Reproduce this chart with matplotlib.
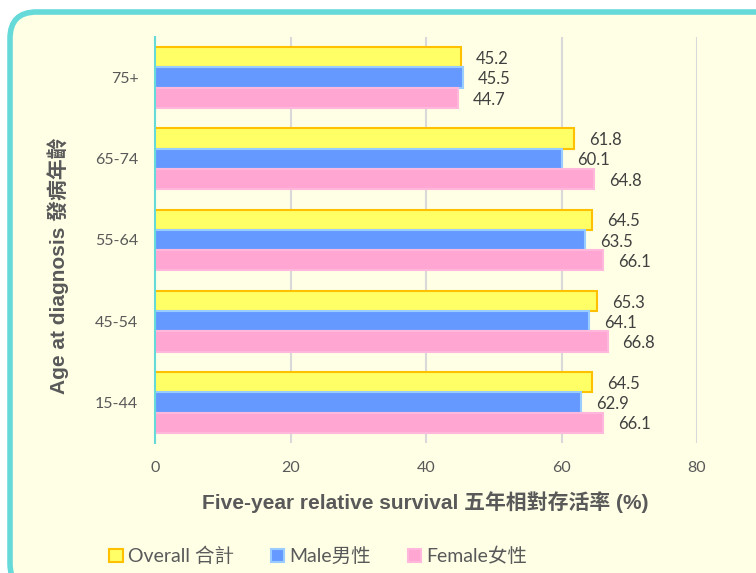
import matplotlib
matplotlib.use("Agg")
import matplotlib.pyplot as plt
from matplotlib.patches import FancyBboxPatch, Patch
import numpy as np

categories = ["75+", "65-74", "55-64", "45-54", "15-44"]
overall = [45.2, 61.8, 64.5, 65.3, 64.5]
male = [45.5, 60.1, 63.5, 64.1, 62.9]
female = [44.7, 64.8, 66.1, 66.8, 66.1]
series_names = ["Overall 合計", "Male男性", "Female女性"]
xticks = [0, 20, 40, 60, 80]

BG = "#FFFFE6"
TXT = "#595959"
fonts = ["Lato", "Noto Sans CJK TC", "DejaVu Sans"]
bold_fonts = ["Liberation Sans", "Noto Sans CJK TC", "DejaVu Sans"]

fig = plt.figure(figsize=(7.56, 5.73), dpi=100)
fig.patch.set_facecolor("white")

# rounded frame
frame = FancyBboxPatch((10 / 756, (573 - 590) / 573), 780 / 756, 578 / 573,
                       boxstyle="round,pad=0,rounding_size=0.035",
                       transform=fig.transFigure, facecolor=BG,
                       edgecolor="#66D9D9", linewidth=4, mutation_aspect=756 / 573,
                       clip_on=False, zorder=-10)
fig.patches.append(frame)

ax = fig.add_axes([155 / 756, 1 - 443 / 573, (697 - 155) / 756, (443 - 37) / 573])
ax.set_facecolor("none")
ax.set_zorder(1)

y = np.arange(len(categories))
h = 0.25
styles = [
    dict(color="#FFFF66", edgecolor="#FFC000"),
    dict(color="#6699FF", edgecolor="#99CCFF"),
    dict(color="#FFA6D2", edgecolor="#FFB8DC"),
]
data = [overall, male, female]
offsets = [-h, 0, h]
for vals, off, st, name in zip(data, offsets, styles, series_names):
    bars = ax.barh(y + off, vals, height=h, color=st["color"],
                   edgecolor=st["edgecolor"], linewidth=1.5, label=name, zorder=3)
    for b, v in zip(bars, vals):
        ax.annotate(f"{v:.1f}", (v, b.get_y() + b.get_height() / 2 + 0.02),
                    xytext=(15, 0), textcoords="offset pixels",
                    va="center", ha="left", fontsize=12, color="#404040",
                    family=fonts, zorder=4)

ax.set_ylim(4.5, -0.5)
ax.set_xlim(0, 80)
ax.set_xticks(xticks)
ax.set_yticks(y)
ax.set_yticklabels(categories)
ax.grid(axis="x", color="#D9D9D9", linewidth=1.5, zorder=0)
ax.set_axisbelow(True)
for s in ["top", "right", "bottom"]:
    ax.spines[s].set_visible(False)
ax.spines["left"].set_color("#66D9D9")
ax.spines["left"].set_linewidth(1.5)
ax.spines["left"].set_zorder(5)
ax.tick_params(axis="both", length=0, colors=TXT, labelsize=11.5)
ax.tick_params(axis="x", pad=13)
ax.tick_params(axis="y", pad=12)
for lab in ax.get_xticklabels() + ax.get_yticklabels():
    lab.set_family(fonts)

fig.text(425 / 756, 1 - 502 / 573, "Five-year relative survival 五年相對存活率 (%)",
         ha="center", va="center", fontsize=15, fontweight="bold",
         color=TXT, family=bold_fonts)
fig.text(58 / 756, 1 - 266 / 573, "Age at diagnosis 發病年齡", rotation=90,
         ha="center", va="center", fontsize=15, fontweight="bold",
         color=TXT, family=bold_fonts)

handles = [Patch(facecolor=st["color"], edgecolor=st["edgecolor"], linewidth=1.5)
           for st in styles]
leg = fig.legend(handles, series_names, loc="center", bbox_to_anchor=(318 / 756, 1 - 556 / 573),
                 ncol=3, frameon=False, handlelength=0.7, handleheight=0.7,
                 handletextpad=0.25, columnspacing=1.9,
                 prop={"family": fonts, "size": 14})
for t in leg.get_texts():
    t.set_color(TXT)

fig.savefig("out.png", dpi=100, facecolor="white")
